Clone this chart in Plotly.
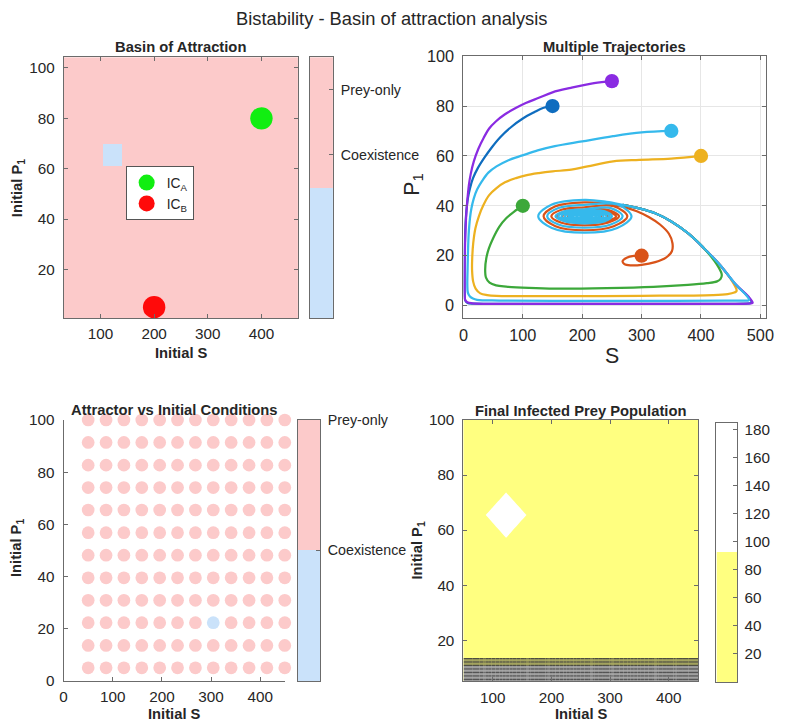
import plotly.graph_objects as go

# the page is shown with the default 8 px body margin and photographed slightly reduced,
# so the figure is laid out in page units: target_px / K - PAD
KX, KY = 0.987, 0.977
PAD = 8
TARGET_W, TARGET_H = 789, 724
W = 783
H = round(TARGET_H / KY - 2 * PAD)
KF = (KX + KY) / 2
FONT = "Liberation Sans, Arial, sans-serif"
TXT = "#262626"
AX = "#6b6b6b"

# ---- grid of initial conditions ----
S0 = [50.0, 86.4, 122.7, 159.1, 195.5, 231.8, 268.2, 304.5, 340.9, 377.3, 413.6, 450.0]
P0 = [5.0, 13.6, 22.3, 30.9, 39.5, 48.2, 56.8, 65.5, 74.1, 82.7, 91.4, 100.0]

# attractor reached: 1 = prey-only, 0 = coexistence (rows = P0, cols = S0)
basin = [
    [1, 1, 1, 1, 1, 1, 1, 1, 1, 1, 1, 1],
    [1, 1, 1, 1, 1, 1, 1, 1, 1, 1, 1, 1],
    [1, 1, 1, 1, 1, 1, 1, 1, 1, 1, 1, 1],
    [1, 1, 1, 1, 1, 1, 1, 1, 1, 1, 1, 1],
    [1, 1, 1, 1, 1, 1, 1, 1, 1, 1, 1, 1],
    [1, 1, 1, 1, 1, 1, 1, 1, 1, 1, 1, 1],
    [1, 1, 1, 1, 1, 1, 1, 1, 1, 1, 1, 1],
    [1, 1, 0, 1, 1, 1, 1, 1, 1, 1, 1, 1],
    [1, 1, 1, 1, 1, 1, 1, 1, 1, 1, 1, 1],
    [1, 1, 1, 1, 1, 1, 1, 1, 1, 1, 1, 1],
    [1, 1, 1, 1, 1, 1, 1, 1, 1, 1, 1, 1],
    [1, 1, 1, 1, 1, 1, 1, 1, 1, 1, 1, 1],
]
attractor_labels = ["Coexistence", "Prey-only"]

# final infected prey (rows = P0, cols = S0)
I_final = [
    [101.5] * 12,
    [88.0] * 12,
    [88.0] * 12,
    [88.0] * 12,
    [88.0] * 12,
    [88.0] * 12,
    [88.0] * 12,
    [88.0, 88.0, 185.0, 88.0, 88.0, 88.0, 88.0, 88.0, 88.0, 88.0, 88.0, 88.0],
    [88.0] * 12,
    [88.0] * 12,
    [88.0] * 12,
    [88.0] * 12,
]
I_range = [0.0, 185.0]

# marked initial conditions
ic_names = ["IC<sub>A</sub>", "IC<sub>B</sub>"]
ic_S = [400, 200]
ic_P = [80, 5]

# ---- phase-plane trajectories (S, P1) ----
# shared approach along the upper-right edge back towards the focus
return_S = [432, 405, 378, 350, 323, 296, 268]
return_P = [16.3, 23.0, 29.0, 33.7, 37.0, 39.0, 40.4]

# spiral of the light-blue run around the coexistence focus
ring_S = [204, 149, 126, 149, 204, 259, 283, 259,
          204, 160, 141, 160, 204, 248, 268, 248,
          204, 170, 155, 170, 204, 238, 250, 238,
          204, 173, 160, 173, 204, 234, 246, 234,
          204, 177, 165, 177, 204, 230, 241, 230,
          204, 181, 171, 181, 204, 226, 236, 226,
          204, 185, 177, 185, 204, 222, 230, 222,
          204, 189, 183, 189, 204, 218, 224, 218,
          204, 194, 190, 194, 204, 213, 217, 213,
          204, 199, 197, 199, 204, 208, 210, 208, 204]
ring_P = [42.4, 40.5, 35.8, 31.1, 29.2, 31.1, 35.8, 40.5,
          40.4, 39.1, 35.8, 32.5, 31.2, 32.5, 35.8, 39.1,
          38.6, 37.8, 35.8, 33.8, 33.0, 33.8, 35.8, 37.8,
          38.2, 37.5, 35.8, 34.1, 33.4, 34.1, 35.8, 37.5,
          37.8, 37.2, 35.8, 34.4, 33.8, 34.4, 35.8, 37.2,
          37.4, 36.9, 35.8, 34.7, 34.2, 34.7, 35.8, 36.9,
          37.0, 36.6, 35.8, 35.0, 34.6, 35.0, 35.8, 36.6,
          36.7, 36.4, 35.8, 35.2, 34.9, 35.2, 35.8, 36.4,
          36.4, 36.2, 35.8, 35.4, 35.2, 35.4, 35.8, 36.2,
          36.1, 36.0, 35.8, 35.6, 35.5, 35.6, 35.8, 36.0, 35.9]

traj_blue_S = [150, 135, 119, 100, 80, 62, 47, 35, 24, 16, 11, 7.5, 5.0, 3.4, 2.5, 2.1, 2.2, 3.2, 7,
               20, 100, 250, 400, 470, 485, 478, 459] + return_S
traj_blue_P = [80, 79.3, 77.5, 75.0, 71.5, 67.5, 63.2, 59.2, 55.0, 51.0, 47.0, 43.0, 38.0, 32.0, 25.0, 15.0, 5.0, 2.0, 1.0,
               0.8, 0.7, 0.7, 0.7, 0.8, 1.2, 3.9, 8.3] + return_P

traj_orange_S = [300, 287, 275, 268, 271, 282, 300, 323, 341, 351, 352, 346, 331, 312, 292, 270, 240,
                 205, 155, 135, 155, 204, 253, 276, 253,
                 204, 165, 148, 165, 204, 243, 262, 243,
                 204, 170, 157, 170, 204, 242, 257, 242,
                 204, 177, 166, 177, 204, 232, 243, 232,
                 204, 184, 176, 184, 204, 224, 232, 224, 204]
traj_orange_P = [20, 19.9, 19.2, 17.8, 16.6, 16.1, 16.3, 17.4, 19.2, 21.8, 25.0, 28.8, 32.5, 35.5, 37.8, 39.6, 40.9,
                 41.4, 39.8, 35.8, 31.8, 30.2, 31.8, 35.8, 39.8,
                 39.4, 38.4, 35.8, 33.2, 32.2, 33.2, 35.8, 38.4,
                 38.3, 37.6, 35.8, 34.0, 33.3, 34.0, 35.8, 37.6,
                 37.6, 37.1, 35.8, 34.5, 34.0, 34.5, 35.8, 37.1,
                 36.9, 36.6, 35.8, 35.0, 34.7, 35.0, 35.8, 36.6, 36.0]

traj_yellow_S = [400, 350, 296, 252, 209, 181.5, 150, 127, 105, 88.5, 70, 55.7, 43, 33.9, 26, 20.2, 16.5, 14.8,
                 14.6, 16.4, 20.5, 28.4, 40, 55.7, 150, 300, 420, 445, 456, 460, 453] + return_S
traj_yellow_P = [60, 58.9, 58.4, 57.8, 55.8, 54.5, 53.8, 53.1, 52.2, 51.1, 49.4, 47.1, 44.2, 40.4, 35.8, 31.0, 25.0, 19.0,
                 14.0, 9.6, 6.8, 4.9, 4.2, 3.9, 3.8, 3.9, 4.2, 4.6, 5.2, 5.9, 9.6] + return_P

traj_purple_S = [250, 220, 181, 150, 127, 105, 88, 70, 55, 43, 34, 25, 17.5, 12.5, 9.3, 6.5, 4.4, 2.8, 2.1,
                 2.0, 2.1, 3.0, 6.6, 15, 60, 200, 350, 450, 478, 487, 479, 459] + return_S
traj_purple_P = [90, 89.2, 87.3, 85.5, 83.3, 81.2, 79.2, 76.7, 73.9, 70.9, 67.2, 62.8, 57.8, 53.0, 48.5, 42.0, 35.0, 25.0, 15.0,
                 8.0, 4.3, 2.2, 1.3, 0.9, 0.7, 0.7, 0.7, 0.7, 0.8, 1.1, 3.8, 8.3] + return_P

traj_green_S = [100, 85, 72, 60, 50, 43, 38.5, 36.6, 38, 44, 55, 72, 110, 154, 241, 320, 378, 410, 427, 433,
                435, 430] + return_S[1:]
traj_green_P = [40, 37.6, 35.0, 31.5, 27.0, 23.0, 19.0, 14.5, 11.2, 9.2, 8.1, 7.6, 7.1, 6.8, 7.0, 7.5, 8.3, 9.0, 9.7, 10.7,
                12.3, 15.2] + return_P[1:]

traj_cyan_S = [350, 300, 252, 200, 154, 125, 99.5, 75, 55.7, 42, 31, 23, 17.5, 13.5, 11, 8.8, 7.7, 7.0, 6.6,
               7.5, 11, 16, 23, 60, 200, 350, 440, 470, 479, 481, 476, 459] + return_S + [241] + ring_S
traj_cyan_P = [70, 69.4, 67.9, 65.8, 63.9, 62.2, 60.2, 58.2, 55.8, 53.3, 49.8, 46.5, 43.0, 39.0, 35.0, 28.5, 21.7, 14.5, 8.3,
               5.2, 3.6, 2.8, 2.3, 2.0, 1.9, 1.9, 2.0, 2.0, 2.0, 2.3, 4.2, 8.3] + return_P + [41.6] + ring_P

trajectories = [
    (traj_blue_S, traj_blue_P, "#0f6dbf"),
    (traj_orange_S, traj_orange_P, "#d95319"),
    (traj_yellow_S, traj_yellow_P, "#edb120"),
    (traj_purple_S, traj_purple_P, "#8a2be2"),
    (traj_green_S, traj_green_P, "#3ca83a"),
    (traj_cyan_S, traj_cyan_P, "#35b9ec"),
]

PINK = "#fccaca"
BLUE = "#cae2fa"
YEL = "#ffff80"


def sz(v):
    """size in figure units for a wanted on-screen size"""
    return v / KF


def px(x):
    return (x / KX - PAD) / W


def py(y):
    return 1 - (y / KY - PAD) / H


def dx(a, b):
    return [px(a), px(b)]


def dy(top, bottom):
    return [py(bottom), py(top)]


fig = go.Figure()

basin_scale = [[0, BLUE], [0.5, BLUE], [0.5, PINK], [1, PINK]]

# ---- panel 1: basin map ----
fig.add_trace(go.Heatmap(x=S0, y=P0, z=basin, zmin=0, zmax=1, colorscale=basin_scale,
                         showscale=False, showlegend=False, hoverinfo="skip", xaxis="x", yaxis="y"))
fig.add_trace(go.Scatter(x=[ic_S[0]], y=[ic_P[0]], mode="markers", name=ic_names[0],
                         marker=dict(size=sz(22), color="#11ee11"), xaxis="x", yaxis="y"))
fig.add_trace(go.Scatter(x=[ic_S[1]], y=[ic_P[1]], mode="markers", name=ic_names[1],
                         marker=dict(size=sz(22), color="#ff0a0a"), xaxis="x", yaxis="y"))

# colour key for the basin map
fig.add_trace(go.Heatmap(x=[0, 1], y=[0, 0.5, 1], z=[[0], [1]], zmin=0, zmax=1, colorscale=basin_scale,
                         showscale=False, showlegend=False, hoverinfo="skip", xaxis="x2", yaxis="y2"))

# ---- panel 2: trajectories ----
for s, p, c in trajectories:
    fig.add_trace(go.Scatter(x=s, y=p, mode="lines",
                             line=dict(color=c, width=sz(2.2), shape="spline", smoothing=1.0),
                             showlegend=False, hoverinfo="skip", xaxis="x3", yaxis="y3"))
    fig.add_trace(go.Scatter(x=[s[0]], y=[p[0]], mode="markers", marker=dict(size=sz(14), color=c),
                             showlegend=False, xaxis="x3", yaxis="y3"))

# ---- panel 3: attractor dots (grid indexed the other way round) ----
dot_S, dot_P, dot_C = [], [], []
for i in range(len(S0)):
    for j in range(len(P0)):
        dot_S.append(S0[j])
        dot_P.append(P0[i])
        dot_C.append(PINK if basin[j][i] == 1 else BLUE)
fig.add_trace(go.Scatter(x=dot_S, y=dot_P, mode="markers", marker=dict(size=sz(12.5), color=dot_C),
                         cliponaxis=False, showlegend=False, xaxis="x4", yaxis="y4"))
fig.add_trace(go.Heatmap(x=[0, 1], y=[0, 0.5, 1], z=[[0], [1]], zmin=0, zmax=1, colorscale=basin_scale,
                         showscale=False, showlegend=False, hoverinfo="skip", xaxis="x5", yaxis="y5"))

# ---- panel 4: final infected prey ----
inf_scale = [[0, YEL], [0.6, YEL], [0.6, "#ffffff"], [1, "#ffffff"]]
mid = (I_range[0] + I_range[1]) / 2
fig.add_trace(go.Contour(x=S0, y=P0, z=I_final, colorscale=inf_scale, showscale=False, showlegend=False,
                         contours=dict(start=I_range[0], end=I_range[1], size=mid, coloring="fill"),
                         line=dict(width=0, smoothing=0), hoverinfo="skip", xaxis="x6", yaxis="y6"))
fig.add_trace(go.Contour(x=S0, y=P0[:2], z=I_final[:2], showscale=False, showlegend=False,
                         contours=dict(start=88.4, end=101.2, size=0.8, coloring="none"),
                         line=dict(width=0.9, color="#3a3a3a", smoothing=0), hoverinfo="skip",
                         xaxis="x6", yaxis="y6"))
fig.add_trace(go.Heatmap(x=[0, 1], y=[I_range[0], mid, I_range[1]], z=[[0], [1]], zmin=0, zmax=1,
                         colorscale=[[0, YEL], [0.5, YEL], [0.5, "#ffffff"], [1, "#ffffff"]],
                         showscale=False, showlegend=False, hoverinfo="skip", xaxis="x7", yaxis="y7"))


def axis(domain, rng, anchor, tickvals=None, box=True, grid=False, size=15, side=None, show_labels=True,
         standoff=2):
    d = dict(domain=domain, range=rng, anchor=anchor, showline=True, linecolor=AX, linewidth=1,
             mirror="ticks" if box else False, ticks="inside", ticklen=4, tickcolor=AX,
             tickfont=dict(family=FONT, size=sz(size), color=TXT), showgrid=grid, gridcolor="#e6e6e6",
             zeroline=False, fixedrange=True, showticklabels=show_labels, ticklabelstandoff=standoff)
    if tickvals is not None:
        d["tickvals"] = tickvals
    if side:
        d["side"] = side
    return d


lay = dict(width=W, height=H, margin=dict(l=0, r=0, t=0, b=0), paper_bgcolor="white", plot_bgcolor="white",
           font=dict(family=FONT, color=TXT))

lay["xaxis"] = axis(dx(67, 302), [31.8, 468.2], "y", [100, 200, 300, 400])
lay["yaxis"] = axis(dy(56, 317), [0.68, 104.3], "x", [20, 40, 60, 80, 100], standoff=5)
lay["xaxis2"] = axis(dx(314, 337), [0, 1], "y2", [], show_labels=False)
lay["yaxis2"] = axis(dy(56, 317), [0, 1], "x2", [0.625, 0.875], side="right", size=14, standoff=4)
lay["yaxis2"]["ticktext"] = attractor_labels
lay["xaxis3"] = axis(dx(468, 772), [0, 510], "y3", [0, 100, 200, 300, 400, 500], grid=True, size=16)
lay["yaxis3"] = axis(dy(55, 317), [-5, 100], "x3", [0, 20, 40, 60, 80, 100], grid=True, size=16, standoff=5)
lay["xaxis4"] = axis(dx(66.7, 288.7), [0, 450], "y4", [0, 100, 200, 300, 400], box=False)
lay["yaxis4"] = axis(dy(419, 680), [0, 100], "x4", [0, 20, 40, 60, 80, 100], box=False, standoff=5)
lay["xaxis5"] = axis(dx(302, 324), [0, 1], "y5", [], show_labels=False)
lay["yaxis5"] = axis(dy(419, 680), [0, 1], "x5", [0.5, 1.0], side="right", size=14, standoff=4)
lay["yaxis5"]["ticktext"] = attractor_labels
lay["xaxis6"] = axis(dx(468, 703.5), [50, 450], "y6", [100, 200, 300, 400])
lay["yaxis6"] = axis(dy(419, 680.6), [5, 100], "x6", [20, 40, 60, 80, 100], standoff=5)
lay["xaxis7"] = axis(dx(722, 743), [0, 1], "y7", [], show_labels=False)
lay["yaxis7"] = axis(dy(422, 681), I_range, "x7", [20, 40, 60, 80, 100, 120, 140, 160, 180], side="right",
                     standoff=3)

for k in ["yaxis2", "yaxis5", "yaxis7"]:
    lay[k]["ticks"] = "inside"
    lay[k]["mirror"] = True

lay["legend"] = dict(x=px(129), y=py(165), xanchor="left", yanchor="top", bgcolor="white",
                     bordercolor="#555", borderwidth=1, font=dict(family=FONT, size=sz(13.5), color=TXT),
                     itemwidth=30, tracegroupgap=0)


def note(text, x, y, size=14.5, bold=True, angle=0):
    t = "<b>" + text + "</b>" if bold else text
    return dict(text=t, x=px(x), y=py(y), xref="paper", yref="paper", showarrow=False,
                xanchor="center", yanchor="middle", textangle=angle,
                font=dict(family=FONT, size=sz(size), color=TXT))


lay["annotations"] = [
    note("Bistability - Basin of attraction analysis", 396, 17, size=18, bold=False),
    note("Basin of Attraction", 184.5, 46),
    note("Multiple Trajectories", 620, 46),
    note("Attractor vs Initial Conditions", 178, 409),
    note("Final Infected Prey Population", 586, 410),
    note("Initial S", 185, 352),
    note("Initial P<sub>1</sub>", 21, 187, angle=-90),
    note("S", 617, 355, size=21, bold=False),
    note("P<sub>1</sub>", 417, 183, size=21, bold=False, angle=-90),
    note("Initial S", 178, 713),
    note("Initial P<sub>1</sub>", 20, 547, angle=-90),
    note("Initial S", 587, 713),
    note("Initial P<sub>1</sub>", 422, 550, angle=-90),
]

fig.update_layout(**lay)
fig.write_html("out.html")
